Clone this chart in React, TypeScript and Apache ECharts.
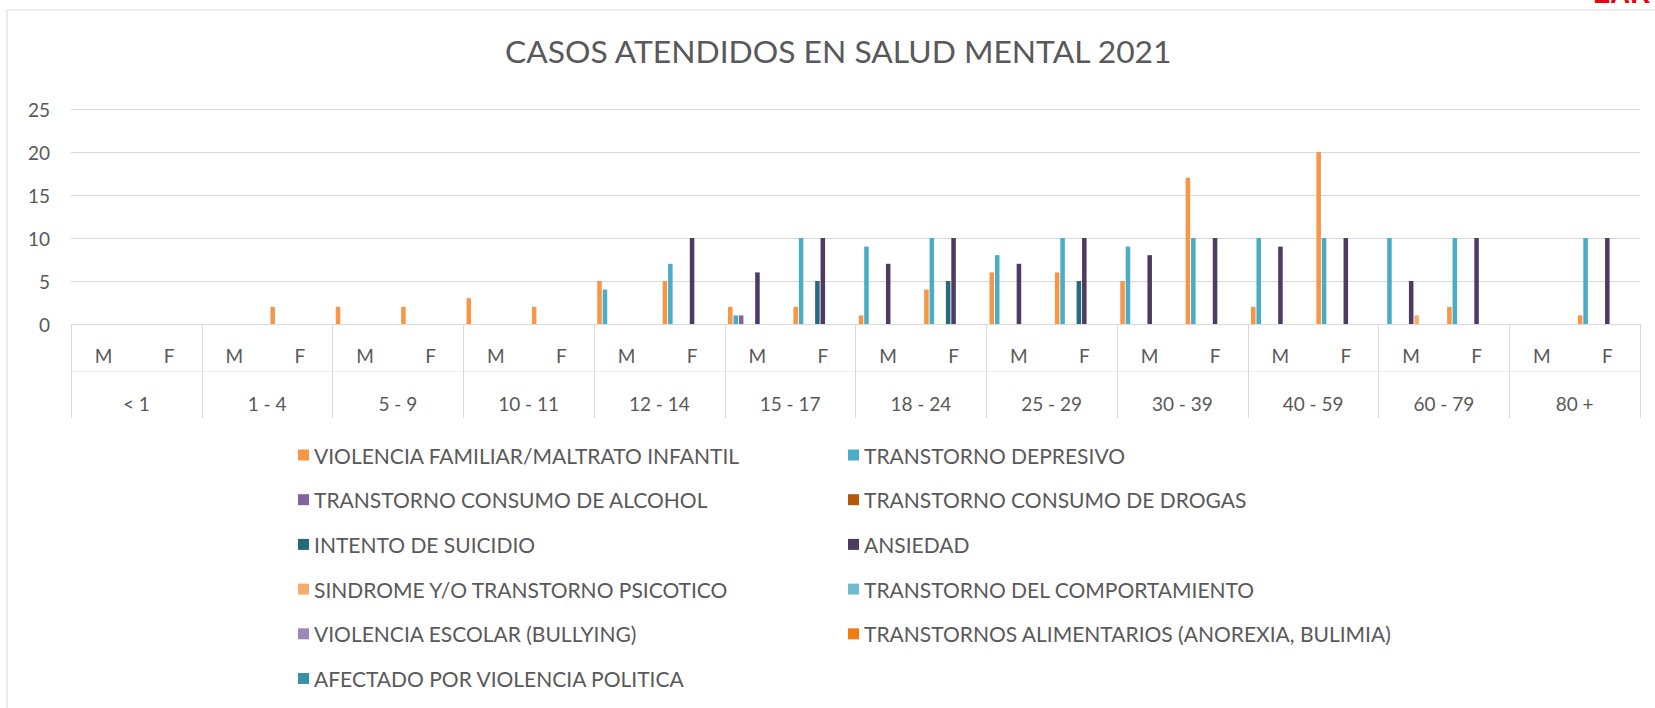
import React, { useEffect, useRef } from "react";
import * as echarts from "echarts";

const groups = ["< 1", "1 - 4", "5 - 9", "10 - 11", "12 - 14", "15 - 17", "18 - 24", "25 - 29", "30 - 39", "40 - 59", "60 - 79", "80 +"];
const sexes = [
  "M", "F", "M", "F", "M", "F", "M", "F", "M", "F", "M", "F",
  "M", "F", "M", "F", "M", "F", "M", "F", "M", "F", "M", "F",
];
const yTicks = { min: 0, max: 25, interval: 5 };

const seriesNames = [
  "VIOLENCIA FAMILIAR/MALTRATO INFANTIL",
  "TRANSTORNO DEPRESIVO",
  "TRANSTORNO CONSUMO DE ALCOHOL",
  "TRANSTORNO CONSUMO DE DROGAS",
  "INTENTO DE SUICIDIO",
  "ANSIEDAD",
  "SINDROME Y/O TRANSTORNO PSICOTICO",
  "TRANSTORNO DEL COMPORTAMIENTO",
  "VIOLENCIA ESCOLAR (BULLYING)",
  "TRANSTORNOS ALIMENTARIOS (ANOREXIA, BULIMIA)",
  "AFECTADO POR VIOLENCIA POLITICA",
];
const seriesColors = [
  "#F79646", "#4BACC6", "#8064A2", "#B65708", "#276A7C", "#4D3B62",
  "#F9AB6B", "#70BDD2", "#9C88B8", "#F47B10", "#3891A7",
];

const violenciaFamiliar = [0, 0, 0, 2, 2, 2, 3, 2, 5, 5, 2, 2, 1, 4, 6, 6, 5, 17, 2, 20, 0, 2, 0, 1];
const depresivo = [0, 0, 0, 0, 0, 0, 0, 0, 4, 7, 1, 10, 9, 10, 8, 10, 9, 10, 10, 10, 10, 10, 0, 10];
const alcohol = [0, 0, 0, 0, 0, 0, 0, 0, 0, 0, 1, 0, 0, 0, 0, 0, 0, 0, 0, 0, 0, 0, 0, 0];
const drogas = [0, 0, 0, 0, 0, 0, 0, 0, 0, 0, 0, 0, 0, 0, 0, 0, 0, 0, 0, 0, 0, 0, 0, 0];
const intentoSuicidio = [0, 0, 0, 0, 0, 0, 0, 0, 0, 0, 0, 5, 0, 5, 0, 5, 0, 0, 0, 0, 0, 0, 0, 0];
const ansiedad = [0, 0, 0, 0, 0, 0, 0, 0, 0, 10, 6, 10, 7, 10, 7, 10, 8, 10, 9, 10, 5, 10, 0, 10];
const psicotico = [0, 0, 0, 0, 0, 0, 0, 0, 0, 0, 0, 0, 0, 0, 0, 0, 0, 0, 0, 0, 1, 0, 0, 0];
const comportamiento = [0, 0, 0, 0, 0, 0, 0, 0, 0, 0, 0, 0, 0, 0, 0, 0, 0, 0, 0, 0, 0, 0, 0, 0];
const bullying = [0, 0, 0, 0, 0, 0, 0, 0, 0, 0, 0, 0, 0, 0, 0, 0, 0, 0, 0, 0, 0, 0, 0, 0];
const alimentarios = [0, 0, 0, 0, 0, 0, 0, 0, 0, 0, 0, 0, 0, 0, 0, 0, 0, 0, 0, 0, 0, 0, 0, 0];
const violenciaPolitica = [0, 0, 0, 0, 0, 0, 0, 0, 0, 0, 0, 0, 0, 0, 0, 0, 0, 0, 0, 0, 0, 0, 0, 0];

const seriesValues = [
  violenciaFamiliar, depresivo, alcohol, drogas, intentoSuicidio, ansiedad,
  psicotico, comportamiento, bullying, alimentarios, violenciaPolitica,
];

const FONT = "Lato";
const TEXT = "#595959";
const GRID = "#d9d9d9";

export default function App() {
  const ref = useRef<HTMLDivElement>(null);
  useEffect(() => {
    document.body.style.margin = "0";
    if (!ref.current) return;
    const chart = echarts.init(ref.current, null, { renderer: "svg" });
    const legendText = { color: TEXT, fontFamily: FONT, fontSize: 21, lineHeight: 21 };
    const legendBase = {
      orient: "vertical",
      top: 444.5,
      padding: 0,
      itemWidth: 11,
      itemHeight: 11,
      itemGap: 23.7,
      icon: "rect",
      textStyle: legendText,
      selectedMode: false,
    };
    chart.setOption({
      animation: false,
      backgroundColor: "#ffffff",
      textStyle: { fontFamily: FONT },
      title: {
        text: "CASOS ATENDIDOS EN SALUD MENTAL 2021",
        left: 505,
        top: 35,
        padding: 0,
        textStyle: { color: TEXT, fontFamily: FONT, fontSize: 31.8, fontWeight: "normal" },
      },
      legend: [
        { ...legendBase, left: 298, data: seriesNames.filter((_, i) => i % 2 === 0) },
        { ...legendBase, left: 848, data: seriesNames.filter((_, i) => i % 2 === 1) },
      ],
      grid: { left: 71, right: 15, top: 109, bottom: 708 - 324, containLabel: false },
      xAxis: [
        {
          type: "category",
          data: sexes,
          boundaryGap: true,
          axisLine: { show: true, lineStyle: { color: GRID, width: 1 } },
          axisTick: { show: false },
          axisLabel: { interval: 0, margin: 22, color: TEXT, fontFamily: FONT, fontSize: 19 },
          splitLine: { show: false },
        },
        {
          type: "category",
          data: groups,
          position: "bottom",
          boundaryGap: true,
          axisLine: { show: false },
          axisTick: { show: true, length: 94, interval: 0, lineStyle: { color: GRID, width: 1 } },
          axisLabel: { interval: 0, margin: 70, color: TEXT, fontFamily: FONT, fontSize: 19 },
          splitLine: { show: false },
        },
        {
          type: "category",
          data: groups,
          position: "bottom",
          offset: 47,
          boundaryGap: true,
          axisLine: { show: true, lineStyle: { color: "#eeeeee", width: 1 } },
          axisTick: { show: false },
          axisLabel: { show: false },
          splitLine: { show: false },
        },
      ],
      yAxis: {
        type: "value",
        min: yTicks.min,
        max: yTicks.max,
        interval: yTicks.interval,
        axisLine: { show: false },
        axisTick: { show: false },
        axisLabel: { margin: 21, color: TEXT, fontFamily: FONT, fontSize: 19 },
        splitLine: { lineStyle: { color: GRID, width: 1 } },
      },
      series: seriesNames.map((name, i) => ({
        name,
        type: "bar",
        xAxisIndex: 0,
        data: seriesValues[i],
        barGap: "20%",
        barCategoryGap: "10%",
        itemStyle: { color: seriesColors[i] },
      })),
      graphic: [
        {
          type: "rect",
          shape: { x: 7, y: 10, width: 1700, height: 800 },
          style: { fill: "none", stroke: GRID, lineWidth: 1 },
          silent: true,
        },
        {
          type: "text",
          x: 1593,
          y: 7,
          style: {
            text: "LAR",
            fill: "#E30613",
            font: "bold 28px 'Liberation Sans', Arial, sans-serif",
            verticalAlign: "bottom",
          },
          silent: true,
        },
      ],
    });
    return () => chart.dispose();
  }, []);
  return <div ref={ref} style={{ width: 1655, height: 708 }} />;
}
